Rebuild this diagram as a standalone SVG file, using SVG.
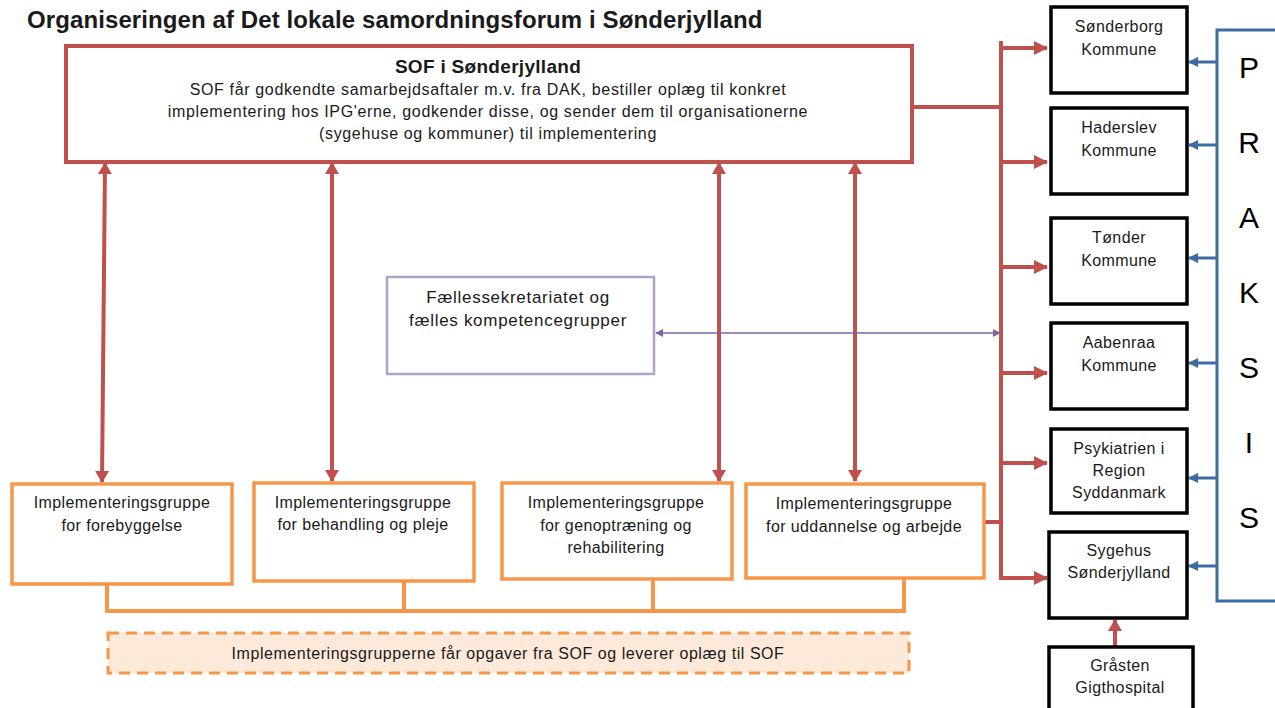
<svg xmlns="http://www.w3.org/2000/svg" width="1275" height="708" viewBox="0 0 1275 708">
<style>
text{font-family:"Liberation Sans",Arial,sans-serif;fill:#1a1a1a;}
.t{font-size:16px;letter-spacing:0.4px;text-anchor:middle;}
.s{letter-spacing:0.65px;}
.b{fill:#fff;stroke:#000;stroke-width:3.5;}
.o{fill:#fff;stroke:#F79646;stroke-width:3.5;}
.red{stroke:#C0504D;stroke-width:4;fill:none;}
.blue{stroke:#3D6CA3;stroke-width:3;fill:none;}
.org{stroke:#F79646;stroke-width:4;fill:none;}
.px{font-size:30px;text-anchor:middle;fill:#000;}
</style>
<defs>
<marker id="ra" markerUnits="userSpaceOnUse" viewBox="0 0 14 14" refX="13" refY="7" markerWidth="15" markerHeight="14" orient="auto-start-reverse"><path d="M0,0L14,7L0,14z" fill="#C0504D"/></marker>
<marker id="rv" markerUnits="userSpaceOnUse" viewBox="0 0 12 14" refX="11" refY="7" markerWidth="12" markerHeight="15" orient="auto-start-reverse"><path d="M0,0L12,7L0,14z" fill="#C0504D"/></marker>
<marker id="ba" markerUnits="userSpaceOnUse" viewBox="0 0 10 10" refX="9" refY="5" markerWidth="10" markerHeight="10" orient="auto"><path d="M0,0L10,5L0,10z" fill="#3D6CA3"/></marker>
<marker id="pa" markerUnits="userSpaceOnUse" viewBox="0 0 8 8" refX="7" refY="4" markerWidth="8" markerHeight="8" orient="auto-start-reverse"><path d="M0,0L8,4L0,8z" fill="#8064A2"/></marker>
</defs>
<rect width="1275" height="708" fill="#fff"/>
<text x="27" y="28" font-size="24" font-weight="bold" letter-spacing="0.1" fill="#000">Organiseringen af Det lokale samordningsforum i Sønderjylland</text>

<g id="connectors">
<path class="red" d="M912,107H1001M1001,41V578H1045M985,522H1001"/>
<path class="red" marker-end="url(#ra)" d="M1001,48H1047"/>
<path class="red" marker-end="url(#ra)" d="M1001,162H1047"/>
<path class="red" marker-end="url(#ra)" d="M1001,267H1047"/>
<path class="red" marker-end="url(#ra)" d="M1001,373H1047"/>
<path class="red" marker-end="url(#ra)" d="M1001,463H1047"/>
<path class="red" marker-end="url(#ra)" d="M1040,578H1047"/>
<path class="red" marker-start="url(#rv)" marker-end="url(#rv)" d="M105,163L102,482"/>
<path class="red" marker-start="url(#rv)" marker-end="url(#rv)" d="M332,163L332,481"/>
<path class="red" marker-start="url(#rv)" marker-end="url(#rv)" d="M719,163L719,481"/>
<path class="red" marker-start="url(#rv)" marker-end="url(#rv)" d="M855,163L855,481"/>
<path class="red" marker-end="url(#rv)" d="M1115,647V620"/>
<path stroke="#8064A2" stroke-width="1.5" fill="none" marker-start="url(#pa)" marker-end="url(#pa)" d="M656,333H1000"/>
<path class="blue" d="M1275,30H1217V601H1275"/>
<path class="blue" marker-end="url(#ba)" d="M1217,62H1189"/>
<path class="blue" marker-end="url(#ba)" d="M1217,145H1189"/>
<path class="blue" marker-end="url(#ba)" d="M1217,258H1189"/>
<path class="blue" marker-end="url(#ba)" d="M1217,363H1189"/>
<path class="blue" marker-end="url(#ba)" d="M1217,478H1189"/>
<path class="blue" marker-end="url(#ba)" d="M1217,566H1189"/>
<path class="org" d="M107,584V611H906M404,581V611M653,579V611M904,578V611"/>
</g>

<g id="sof">
<rect x="66" y="46" width="846" height="116" fill="#fff" stroke="#C0504D" stroke-width="4"/>
<text x="488" y="73" font-size="19" font-weight="bold" text-anchor="middle" letter-spacing="0.3" fill="#000">SOF i Sønderjylland</text>
<text class="t s" x="488" y="95">SOF får godkendte samarbejdsaftaler m.v. fra DAK, bestiller oplæg til konkret</text>
<text class="t s" x="488" y="117">implementering hos IPG'erne, godkender disse, og sender dem til organisationerne</text>
<text class="t s" x="488" y="139">(sygehuse og kommuner) til implementering</text>
</g>

<g id="faelles">
<rect x="387" y="277" width="267" height="97" fill="#fff" stroke="#B3A2C7" stroke-width="2.5"/>
<text class="t" x="518" y="303" style="font-size:17px;letter-spacing:0.7px">Fællessekretariatet og</text>
<text class="t" x="518" y="326" style="font-size:17px;letter-spacing:0.7px">fælles kompetencegrupper</text>
</g>

<g id="ipg1"><rect class="o" x="12" y="484" width="220" height="100"/>
<text class="t" x="122" y="508">Implementeringsgruppe</text><text class="t" x="122" y="531">for forebyggelse</text></g>
<g id="ipg2"><rect class="o" x="254" y="483" width="220" height="98"/>
<text class="t" x="363" y="508">Implementeringsgruppe</text><text class="t" x="363" y="530">for behandling og pleje</text></g>
<g id="ipg3"><rect class="o" x="502" y="483" width="230" height="96"/>
<text class="t" x="616" y="508">Implementeringsgruppe</text><text class="t" x="616" y="531">for genoptræning og</text><text class="t" x="616" y="553">rehabilitering</text></g>
<g id="ipg4"><rect class="o" x="746" y="484" width="238" height="94"/>
<text class="t" x="864" y="509">Implementeringsgruppe</text><text class="t" x="864" y="532">for uddannelse og arbejde</text></g>

<g id="note"><rect x="108" y="633" width="801" height="40" fill="#FDE9D9" stroke="#F79646" stroke-width="3" stroke-dasharray="11,7"/>
<text class="t" x="508" y="659" style="letter-spacing:0.55px">Implementeringsgrupperne får opgaver fra SOF og leverer oplæg til SOF</text></g>

<g id="soenderborg"><rect class="b" x="1051" y="7" width="136" height="86"/>
<text class="t" x="1119" y="32">Sønderborg</text><text class="t" x="1119" y="55">Kommune</text></g>
<g id="haderslev"><rect class="b" x="1051" y="108" width="136" height="86"/>
<text class="t" x="1119" y="133">Haderslev</text><text class="t" x="1119" y="156">Kommune</text></g>
<g id="toender"><rect class="b" x="1051" y="218" width="136" height="86"/>
<text class="t" x="1119" y="243">Tønder</text><text class="t" x="1119" y="266">Kommune</text></g>
<g id="aabenraa"><rect class="b" x="1051" y="323" width="136" height="86"/>
<text class="t" x="1119" y="348">Aabenraa</text><text class="t" x="1119" y="371">Kommune</text></g>
<g id="psykiatrien"><rect class="b" x="1051" y="429" width="136" height="84"/>
<text class="t" x="1119" y="454">Psykiatrien i</text><text class="t" x="1119" y="476">Region</text><text class="t" x="1119" y="498">Syddanmark</text></g>
<g id="sygehus"><rect class="b" x="1049" y="532" width="138" height="86"/>
<text class="t" x="1119" y="556">Sygehus</text><text class="t" x="1119" y="578">Sønderjylland</text></g>
<g id="graasten"><rect class="b" x="1049" y="647" width="144" height="70"/>
<text class="t" x="1120" y="671">Gråsten</text><text class="t" x="1120" y="693">Gigthospital</text></g>

<g id="praksis">
<text class="px" x="1249" y="78">P</text>
<text class="px" x="1249" y="153">R</text>
<text class="px" x="1249" y="228">A</text>
<text class="px" x="1249" y="303">K</text>
<text class="px" x="1249" y="378">S</text>
<text class="px" x="1249" y="453">I</text>
<text class="px" x="1249" y="528">S</text>
</g>
</svg>
